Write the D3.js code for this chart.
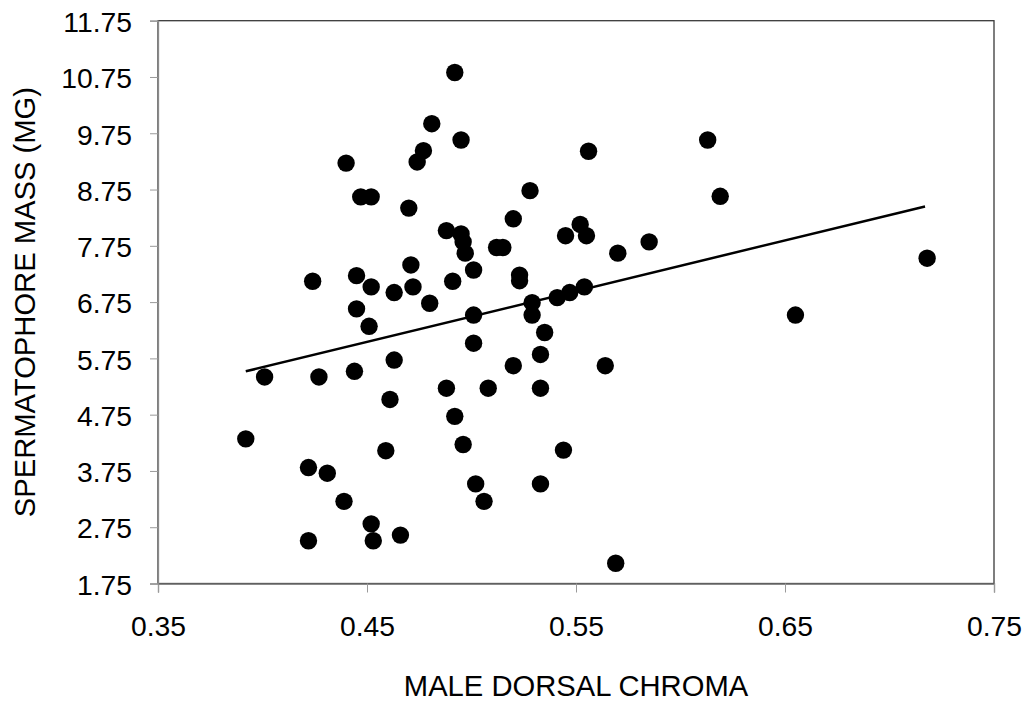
<!DOCTYPE html>
<html>
<head>
<meta charset="utf-8">
<script src="https://cdn.jsdelivr.net/npm/d3@7"></script>
<style>
    body { margin: 0; background: white; }
    text { font-family: Arial, "Liberation Sans", sans-serif; }
</style>
</head>
<body>
<svg id="svgChart" width="1026" height="704"></svg>
<script>
// male dorsal chroma (x) and spermatophore mass in mg (y)
var chroma = [
    0.440, 0.447, 0.452, 0.470, 0.474, 0.477, 0.471, 0.424, 0.445, 0.452,
    0.463, 0.472, 0.445, 0.451, 0.492, 0.481, 0.495, 0.528, 0.520, 0.488,
    0.495, 0.496, 0.497, 0.512, 0.515, 0.545, 0.552, 0.555, 0.501, 0.491,
    0.523, 0.523, 0.480, 0.501, 0.529, 0.529, 0.541, 0.547, 0.554, 0.613,
    0.556, 0.619, 0.570, 0.585, 0.718, 0.655, 0.401, 0.427, 0.444, 0.463,
    0.392, 0.461, 0.459, 0.422, 0.431, 0.439, 0.452, 0.453, 0.422, 0.466,
    0.501, 0.535, 0.533, 0.520, 0.488, 0.508, 0.533, 0.492, 0.496, 0.544,
    0.502, 0.506, 0.533, 0.564, 0.569
];
var mass = [
    9.22, 8.62, 8.62, 8.42, 9.24, 9.44, 7.41, 7.12, 7.22, 7.02,
    6.92, 7.02, 6.63, 6.32, 10.83, 9.92, 9.63, 8.73, 8.23, 8.02,
    7.96, 7.82, 7.62, 7.72, 7.72, 7.93, 8.13, 7.93, 7.32, 7.12,
    7.23, 7.13, 6.73, 6.52, 6.74, 6.52, 6.83, 6.92, 7.02, 9.63,
    9.43, 8.63, 7.62, 7.82, 7.53, 6.52, 5.42, 5.42, 5.52, 5.72,
    4.32, 5.02, 4.11, 3.81, 3.71, 3.21, 2.81, 2.51, 2.51, 2.61,
    6.02, 6.21, 5.82, 5.62, 5.22, 5.22, 5.22, 4.72, 4.22, 4.12,
    3.52, 3.21, 3.52, 5.62, 2.11
];

// linear trend line end points
var trendX = [0.392, 0.717];
var trendY = [5.52, 8.45];

var xTicks = [0.35, 0.45, 0.55, 0.65, 0.75];
var yTicks = [1.75, 2.75, 3.75, 4.75, 5.75, 6.75, 7.75, 8.75, 9.75, 10.75, 11.75];

var xTitle = 'MALE DORSAL CHROMA';
var yTitle = 'SPERMATOPHORE MASS (MG)';

function renderChart() {
    let svg = d3.select('#svgChart');
    let width = +svg.attr('width');
    let height = +svg.attr('height');

    let margin = {top: 20.7, right: 32, bottom: 120.5, left: 158};
    let plotW = width - margin.left - margin.right;
    let plotH = height - margin.top - margin.bottom;

    let xScale = d3.scaleLinear()
        .domain([0.35, 0.75])
        .range([margin.left, margin.left + plotW]);
    let yScale = d3.scaleLinear()
        .domain([1.75, 11.75])
        .range([margin.top + plotH, margin.top]);

    // plot area frame
    svg.append('rect')
        .attr('x', margin.left)
        .attr('y', margin.top)
        .attr('width', plotW)
        .attr('height', plotH)
        .style('fill', 'none')
        .style('stroke', '#3a3a3a')
        .style('stroke-width', 1.3);

    let fmt = d3.format('.2f');

    // x axis
    let xAxis = svg.append('g')
        .attr('transform', 'translate(0,' + (margin.top + plotH) + ')')
        .call(d3.axisBottom(xScale)
            .tickValues(xTicks)
            .tickFormat(fmt)
            .tickSize(9)
            .tickPadding(23));
    xAxis.select('.domain').attr('stroke', '#6e6e6e').attr('stroke-width', 1.3);
    xAxis.selectAll('.tick line').attr('stroke', '#9a9a9a');
    xAxis.selectAll('.tick text')
        .attr('fill', 'black')
        .attr('font-size', 28.3);

    // y axis
    let yAxis = svg.append('g')
        .attr('transform', 'translate(' + margin.left + ',0)')
        .call(d3.axisLeft(yScale)
            .tickValues(yTicks)
            .tickFormat(fmt)
            .tickSize(8)
            .tickPadding(18));
    yAxis.select('.domain').attr('stroke', '#8a8a8a').attr('stroke-width', 1.3);
    yAxis.selectAll('.tick line').attr('stroke', '#9a9a9a');
    yAxis.selectAll('.tick text')
        .attr('fill', 'black')
        .attr('font-size', 28.3)
        .attr('dy', '0.38em');

    // axis titles
    svg.append('text')
        .attr('x', margin.left + plotW / 2)
        .attr('y', 696)
        .attr('text-anchor', 'middle')
        .attr('font-size', 29.2)
        .attr('fill', 'black')
        .text(xTitle);
    svg.append('text')
        .attr('transform', 'translate(35,' + (margin.top + plotH / 2) + ') rotate(-90)')
        .attr('text-anchor', 'middle')
        .attr('font-size', 29.2)
        .attr('fill', 'black')
        .text(yTitle);

    // trend line
    let line = d3.line()
        .x(function (d) { return xScale(d[0]); })
        .y(function (d) { return yScale(d[1]); });
    svg.append('path')
        .datum(d3.zip(trendX, trendY))
        .attr('d', line)
        .style('fill', 'none')
        .style('stroke', 'black')
        .style('stroke-width', 2.5);

    // scatter points
    svg.selectAll('circle.pt')
        .data(d3.zip(chroma, mass))
        .enter()
        .append('circle')
        .attr('class', 'pt')
        .attr('cx', function (d) { return xScale(d[0]); })
        .attr('cy', function (d) { return yScale(d[1]); })
        .attr('r', 8.7)
        .style('fill', 'black');
}

renderChart();
</script>
</body>
</html>
